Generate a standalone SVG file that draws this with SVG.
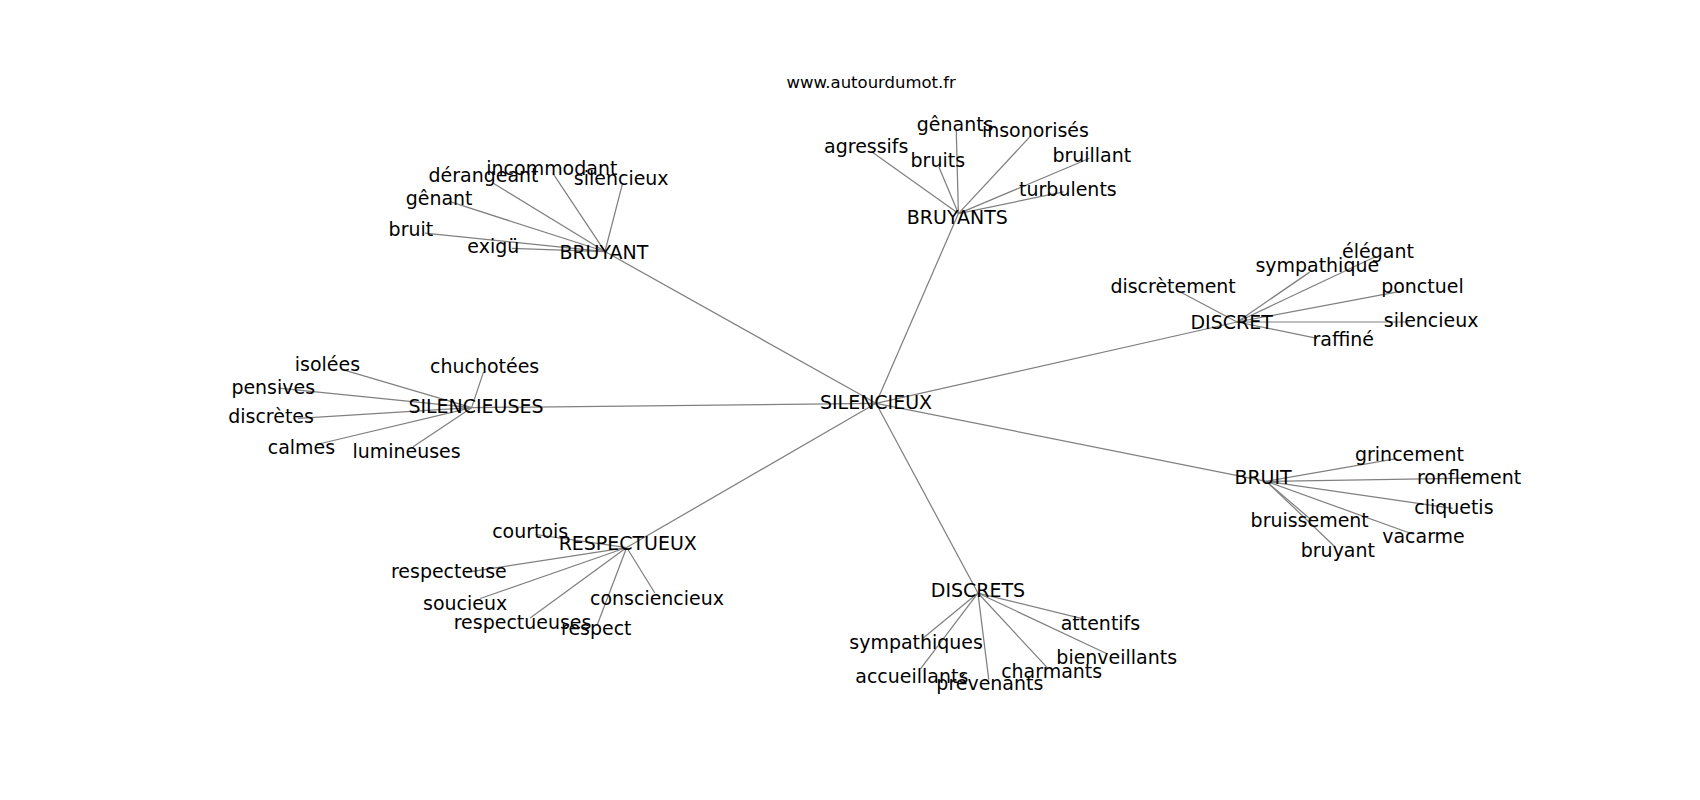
<svg xmlns="http://www.w3.org/2000/svg" width="1700" height="800" viewBox="0 0 1700 800">
<style>
.edge{stroke:#808080;stroke-width:1.15;fill:none}
.lbl{font-family:"DejaVu Sans","Liberation Sans",sans-serif;font-size:17.5px;text-anchor:middle;fill:#000}
.title{font-family:"DejaVu Sans","Liberation Sans",sans-serif;font-size:15.2px;text-anchor:middle;fill:#000}
</style>
<rect width="1700" height="800" fill="#fff"/>
<g transform="scale(1.08418)">
<g id="edges">
<line class="edge" x1="808" y1="372" x2="558" y2="232"/>
<line class="edge" x1="808" y1="372" x2="884" y2="197"/>
<line class="edge" x1="808" y1="372" x2="1141" y2="297"/>
<line class="edge" x1="808" y1="372" x2="435" y2="376"/>
<line class="edge" x1="808" y1="372" x2="1168" y2="444"/>
<line class="edge" x1="808" y1="372" x2="578" y2="505"/>
<line class="edge" x1="808" y1="372" x2="902" y2="547"/>
<line class="edge" x1="558" y1="232" x2="455" y2="169"/>
<line class="edge" x1="558" y1="232" x2="510" y2="160"/>
<line class="edge" x1="558" y1="232" x2="574" y2="170"/>
<line class="edge" x1="558" y1="232" x2="415" y2="186"/>
<line class="edge" x1="558" y1="232" x2="392" y2="215"/>
<line class="edge" x1="558" y1="232" x2="472" y2="229"/>
<line class="edge" x1="884" y1="197" x2="804" y2="140"/>
<line class="edge" x1="884" y1="197" x2="882" y2="120"/>
<line class="edge" x1="884" y1="197" x2="950" y2="126"/>
<line class="edge" x1="884" y1="197" x2="866" y2="154"/>
<line class="edge" x1="884" y1="197" x2="1005" y2="146"/>
<line class="edge" x1="884" y1="197" x2="981" y2="177"/>
<line class="edge" x1="1141" y1="297" x2="1090" y2="270"/>
<line class="edge" x1="1141" y1="297" x2="1208" y2="251"/>
<line class="edge" x1="1141" y1="297" x2="1268" y2="237"/>
<line class="edge" x1="1141" y1="297" x2="1295" y2="268"/>
<line class="edge" x1="1141" y1="297" x2="1300" y2="297"/>
<line class="edge" x1="1141" y1="297" x2="1215" y2="312"/>
<line class="edge" x1="435" y1="376" x2="316" y2="341"/>
<line class="edge" x1="435" y1="376" x2="257" y2="358"/>
<line class="edge" x1="435" y1="376" x2="275" y2="386"/>
<line class="edge" x1="435" y1="376" x2="292" y2="410"/>
<line class="edge" x1="435" y1="376" x2="381" y2="412"/>
<line class="edge" x1="435" y1="376" x2="446" y2="343"/>
<line class="edge" x1="578" y1="505" x2="494" y2="493"/>
<line class="edge" x1="578" y1="505" x2="430" y2="528"/>
<line class="edge" x1="578" y1="505" x2="443" y2="552"/>
<line class="edge" x1="578" y1="505" x2="489" y2="570"/>
<line class="edge" x1="578" y1="505" x2="551" y2="576"/>
<line class="edge" x1="578" y1="505" x2="604" y2="547"/>
<line class="edge" x1="902" y1="547" x2="1000" y2="571"/>
<line class="edge" x1="902" y1="547" x2="851" y2="589"/>
<line class="edge" x1="902" y1="547" x2="1021" y2="603"/>
<line class="edge" x1="902" y1="547" x2="967" y2="617"/>
<line class="edge" x1="902" y1="547" x2="912" y2="627"/>
<line class="edge" x1="902" y1="547" x2="849" y2="617"/>
<line class="edge" x1="1168" y1="444" x2="1288" y2="423"/>
<line class="edge" x1="1168" y1="444" x2="1356" y2="441"/>
<line class="edge" x1="1168" y1="444" x2="1340" y2="469"/>
<line class="edge" x1="1168" y1="444" x2="1304" y2="493"/>
<line class="edge" x1="1168" y1="444" x2="1210" y2="480"/>
<line class="edge" x1="1168" y1="444" x2="1231" y2="504"/>
</g>
<text class="title" x="803.5" y="81">www.autourdumot.fr</text>
<g id="n-silencieux"><text class="lbl" x="808" y="377">SILENCIEUX</text></g>
<g id="n-bruyant"><text class="lbl" x="557" y="239">BRUYANT</text></g>
<g id="n-bruyant-derangeant"><text class="lbl" x="446" y="168">dérangeant</text></g>
<g id="n-bruyant-incommodant"><text class="lbl" x="509" y="161">incommodant</text></g>
<g id="n-bruyant-silencieux"><text class="lbl" x="573" y="171">silencieux</text></g>
<g id="n-bruyant-genant"><text class="lbl" x="405" y="189">gênant</text></g>
<g id="n-bruyant-bruit"><text class="lbl" x="379" y="218">bruit</text></g>
<g id="n-bruyant-exigu"><text class="lbl" x="455" y="233">exigü</text></g>
<g id="n-bruyants"><text class="lbl" x="883" y="207">BRUYANTS</text></g>
<g id="n-bruyants-agressifs"><text class="lbl" x="799" y="141">agressifs</text></g>
<g id="n-bruyants-genants"><text class="lbl" x="881" y="121">gênants</text></g>
<g id="n-bruyants-insonorises"><text class="lbl" x="955" y="126">insonorisés</text></g>
<g id="n-bruyants-bruits"><text class="lbl" x="865" y="154">bruits</text></g>
<g id="n-bruyants-bruillant"><text class="lbl" x="1007" y="149">bruillant</text></g>
<g id="n-bruyants-turbulents"><text class="lbl" x="985" y="181">turbulents</text></g>
<g id="n-discret"><text class="lbl" x="1136" y="303">DISCRET</text></g>
<g id="n-discret-discretement"><text class="lbl" x="1082" y="270">discrètement</text></g>
<g id="n-discret-sympathique"><text class="lbl" x="1215" y="251">sympathique</text></g>
<g id="n-discret-elegant"><text class="lbl" x="1271" y="238">élégant</text></g>
<g id="n-discret-ponctuel"><text class="lbl" x="1312" y="270">ponctuel</text></g>
<g id="n-discret-silencieux"><text class="lbl" x="1320" y="302">silencieux</text></g>
<g id="n-discret-raffine"><text class="lbl" x="1239" y="319">raffiné</text></g>
<g id="n-silencieuses"><text class="lbl" x="439" y="381">SILENCIEUSES</text></g>
<g id="n-silencieuses-isolees"><text class="lbl" x="302" y="342">isolées</text></g>
<g id="n-silencieuses-pensives"><text class="lbl" x="252" y="363">pensives</text></g>
<g id="n-silencieuses-discretes"><text class="lbl" x="250" y="390">discrètes</text></g>
<g id="n-silencieuses-calmes"><text class="lbl" x="278" y="419">calmes</text></g>
<g id="n-silencieuses-lumineuses"><text class="lbl" x="375" y="422">lumineuses</text></g>
<g id="n-silencieuses-chuchotees"><text class="lbl" x="447" y="344">chuchotées</text></g>
<g id="n-respectueux"><text class="lbl" x="579" y="507">RESPECTUEUX</text></g>
<g id="n-respectueux-courtois"><text class="lbl" x="489" y="496">courtois</text></g>
<g id="n-respectueux-respecteuse"><text class="lbl" x="414" y="533">respecteuse</text></g>
<g id="n-respectueux-soucieux"><text class="lbl" x="429" y="563">soucieux</text></g>
<g id="n-respectueux-respectueuses"><text class="lbl" x="482" y="580">respectueuses</text></g>
<g id="n-respectueux-respect"><text class="lbl" x="550" y="586">respect</text></g>
<g id="n-respectueux-consciencieux"><text class="lbl" x="606" y="558">consciencieux</text></g>
<g id="n-discrets"><text class="lbl" x="902" y="551">DISCRETS</text></g>
<g id="n-discrets-attentifs"><text class="lbl" x="1015" y="581">attentifs</text></g>
<g id="n-discrets-sympathiques"><text class="lbl" x="845" y="599">sympathiques</text></g>
<g id="n-discrets-bienveillants"><text class="lbl" x="1030" y="612">bienveillants</text></g>
<g id="n-discrets-charmants"><text class="lbl" x="970" y="625">charmants</text></g>
<g id="n-discrets-prevenants"><text class="lbl" x="913" y="636">prévenants</text></g>
<g id="n-discrets-accueillants"><text class="lbl" x="841" y="630">accueillants</text></g>
<g id="n-bruit"><text class="lbl" x="1165" y="446">BRUIT</text></g>
<g id="n-bruit-grincement"><text class="lbl" x="1300" y="425">grincement</text></g>
<g id="n-bruit-ronflement"><text class="lbl" x="1355" y="446">ronflement</text></g>
<g id="n-bruit-cliquetis"><text class="lbl" x="1341" y="474">cliquetis</text></g>
<g id="n-bruit-vacarme"><text class="lbl" x="1313" y="501">vacarme</text></g>
<g id="n-bruit-bruissement"><text class="lbl" x="1208" y="486">bruissement</text></g>
<g id="n-bruit-bruyant"><text class="lbl" x="1234" y="514">bruyant</text></g>
</g>
</svg>
